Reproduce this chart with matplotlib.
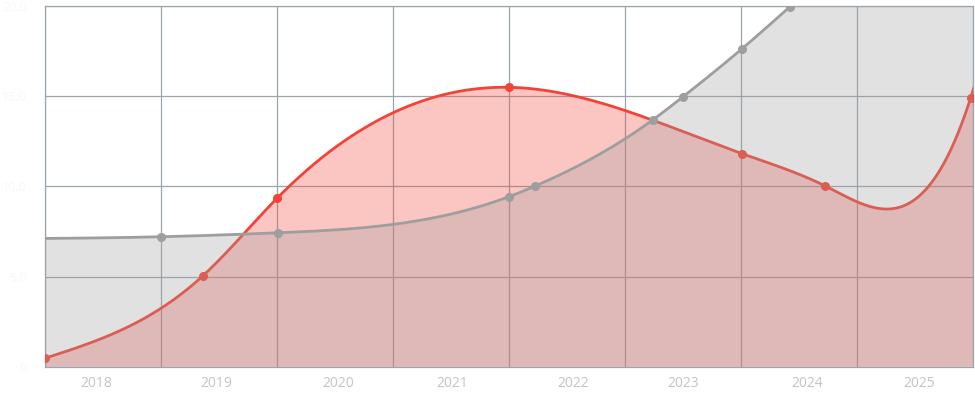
import numpy as np
import matplotlib.pyplot as plt

# x is measured in grid columns (0..8), y in value units (0..20)
RED_X = [0.0, 1.359, 2.003, 4.003, 6.009, 6.722, 7.98, 8.5]
RED_Y = [0.47, 5.03, 9.36, 15.50, 11.82, 10.04, 14.92, 29.0]
RED_MARKED = 7  # the last point lies outside the plot

GRAY_X = [-1.0, 1.0, 2.009, 3.998, 4.224, 5.239, 5.497, 6.009, 6.422, 7.4, 8.6]
GRAY_Y = [7.10, 7.21, 7.43, 9.43, 10.02, 13.69, 14.96, 17.64, 19.97, 25.5, 32.3]

YEARS = ["2018", "2019", "2020", "2021", "2022", "2023", "2024", "2025"]
YEAR_POS = [0.446, 1.480, 2.528, 3.511, 4.554, 5.503, 6.572, 7.534]
Y_TICKS = [0, 5, 10, 15, 20]
Y_LABELS = ["0", "5.0", "10.0", "15.0", "20.0"]


def natural_spline(x, y, xs):
    x = np.asarray(x, float)
    y = np.asarray(y, float)
    n = len(x)
    h = np.diff(x)
    A = np.zeros((n, n))
    r = np.zeros(n)
    A[0, 0] = 1.0
    A[-1, -1] = 1.0
    for i in range(1, n - 1):
        A[i, i - 1] = h[i - 1]
        A[i, i] = 2 * (h[i - 1] + h[i])
        A[i, i + 1] = h[i]
        r[i] = 6 * ((y[i + 1] - y[i]) / h[i] - (y[i] - y[i - 1]) / h[i - 1])
    M = np.linalg.solve(A, r)
    i = np.clip(np.searchsorted(x, xs) - 1, 0, n - 2)
    t = xs - x[i]
    hi = h[i]
    a = (M[i + 1] - M[i]) / (6 * hi)
    b = M[i] / 2
    c = (y[i + 1] - y[i]) / hi - hi * (2 * M[i] + M[i + 1]) / 6
    return y[i] + c * t + b * t ** 2 + a * t ** 3


fig = plt.figure(figsize=(9.75, 3.99), dpi=100)
ax = fig.add_axes([45 / 975, 1 - 366.7 / 399, 928 / 975, 360.5 / 399])

red = "#f44336"
gray = "#9e9e9e"

xs_r = np.linspace(RED_X[0], RED_X[-1], 800)
ys_r = natural_spline(RED_X, RED_Y, xs_r)
ax.fill_between(xs_r, ys_r, 0, color=red, alpha=0.3, lw=0, zorder=2)
ax.plot(xs_r, ys_r, color=red, lw=2, zorder=3)
ax.plot(RED_X[:RED_MARKED], RED_Y[:RED_MARKED], "o", color=red, ms=5.5, zorder=3)

xs_g = np.linspace(GRAY_X[0], GRAY_X[-1], 800)
ys_g = natural_spline(GRAY_X, GRAY_Y, xs_g)
ax.fill_between(xs_g, ys_g, 0, color=gray, alpha=0.3, lw=0, zorder=4)
ax.plot(xs_g, ys_g, color=gray, lw=2, zorder=5)
ax.plot(GRAY_X[1:], GRAY_Y[1:], "o", color=gray, ms=5.5, zorder=5)

ax.set_xlim(0, 8)
ax.set_ylim(0, 20)

grid_c = "#9ba6ac"
for gx in range(0, 9):
    ax.axvline(gx, color=grid_c, lw=0.9, zorder=1)
for gy in Y_TICKS:
    ax.axhline(gy, color=grid_c, lw=0.9, zorder=1)
for s in ax.spines.values():
    s.set_color(grid_c)
    s.set_linewidth(0.9)

ax.set_xticks(YEAR_POS)
ax.set_xticklabels(YEARS)
ax.set_yticks(Y_TICKS)
ax.set_yticklabels(Y_LABELS)
ax.tick_params(axis="x", length=0, pad=7, labelsize=10, labelcolor="#c4c4c4")
ax.tick_params(axis="y", length=0, pad=13, labelsize=9, labelcolor="#f8f8f8")
for lab in ax.get_xticklabels() + ax.get_yticklabels():
    lab.set_fontfamily("Open Sans")

fig.savefig("out.png", dpi=100)
